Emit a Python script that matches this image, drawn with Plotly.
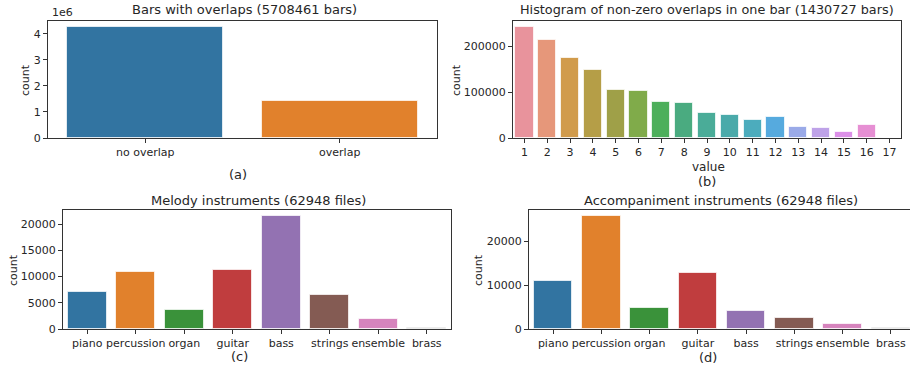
import plotly.graph_objects as go

W, H = 910, 367

# ---- data ----
overlap_cats = ["no overlap", "overlap"]
overlap_counts = [4277734, 1430727]

hist_values = [str(i) for i in range(1, 18)]
hist_counts = [243500, 214000, 175000, 149000, 105800, 102000, 77600, 76800,
               53800, 50700, 39300, 45800, 24000, 22500, 13200, 27700, 300]

instr_cats = ["piano", "percussion", "organ", "guitar", "bass", "strings", "ensemble", "brass"]
melody_counts = [7120, 10820, 3630, 11200, 21620, 6490, 1910, 120]
accomp_counts = [11060, 25930, 4870, 12880, 4190, 2450, 1210, 150]

# ---- styles ----
tab_colors = ["#3274a1", "#e1812c", "#3a923a", "#c03d3e", "#9372b2", "#845b53", "#d684bd", "#7f7f7f"]
husl_colors = ["#e8939c", "#e6977a", "#d19b4b", "#b59e47", "#9fa048", "#80ab4a", "#4daf5b",
               "#4aab80", "#4aac98", "#4aaaaa", "#4cacbd", "#56aade", "#9aaae8", "#bea2e8",
               "#dc90e8", "#e68fd3", "#e88fb8"]
FONT = "DejaVu Sans"
TXT = "#262626"
edge = dict(color="rgba(255,255,255,0.7)", width=1)

def px_x(x0, x1):
    return [x0 / W, x1 / W]

def px_y(top, bottom):
    return [1 - bottom / H, 1 - top / H]

fig = go.Figure()

fig.add_trace(go.Bar(x=overlap_cats, y=overlap_counts, marker=dict(color=tab_colors[:2], line=edge),
                     width=0.8, xaxis="x", yaxis="y"))
fig.add_trace(go.Bar(x=hist_values, y=hist_counts, marker=dict(color=husl_colors, line=edge),
                     width=0.8, xaxis="x2", yaxis="y2"))
fig.add_trace(go.Bar(x=instr_cats, y=melody_counts, marker=dict(color=tab_colors, line=edge),
                     width=0.8, xaxis="x3", yaxis="y3"))
fig.add_trace(go.Bar(x=instr_cats, y=accomp_counts, marker=dict(color=tab_colors, line=edge),
                     width=0.8, xaxis="x4", yaxis="y4"))

axis_common = dict(showline=True, linecolor="#333333", linewidth=1, mirror=True,
                   ticks="outside", ticklen=4, tickcolor="#333333", showgrid=False,
                   zeroline=False, automargin=False,
                   tickfont=dict(family=FONT, size=11, color=TXT))

def xa(domain, anchor, n, hi=None):
    d = dict(axis_common)
    d.update(domain=domain, anchor=anchor, type="category",
             range=[-0.5, (n - 0.5) if hi is None else hi])
    return d

def ya(domain, anchor, rng, **kw):
    d = dict(axis_common)
    d.update(domain=domain, anchor=anchor, range=rng, tickformat="d")
    d.update(kw)
    return d

top_y = px_y(21, 138)
bot_y = px_y(210, 329)

fig.update_layout(
    width=W, height=H, margin=dict(l=0, r=0, t=0, b=0),
    paper_bgcolor="white", plot_bgcolor="white", showlegend=False, bargap=0,
    font=dict(family=FONT, size=11, color=TXT),
    xaxis=xa(px_x(48, 437), "y", 2),
    yaxis=ya(top_y, "x", [0, max(overlap_counts) * 1.05],
             tickvals=[0, 1e6, 2e6, 3e6, 4e6], ticktext=["0", "1", "2", "3", "4"]),
    xaxis2=xa(px_x(513, 901), "y2", 17),
    yaxis2=ya(top_y, "x2", [0, max(hist_counts) * 1.05], tickvals=[0, 100000, 200000]),
    xaxis3=xa(px_x(63, 451), "y3", 8),
    yaxis3=ya(bot_y, "x3", [0, max(melody_counts) * 1.05],
              tickvals=[0, 5000, 10000, 15000, 20000]),
    xaxis4=xa(px_x(529, 910), "y4", 8, hi=7.5 - 5 / 48.3),
    yaxis4=ya(bot_y, "x4", [0, max(accomp_counts) * 1.05], tickvals=[0, 10000, 20000]),
)

def note(text, x, y, size=11, angle=0, xanchor="center"):
    fig.add_annotation(text=text, x=x / W, y=1 - y / H, xref="paper", yref="paper",
                       showarrow=False, textangle=angle, xanchor=xanchor, yanchor="middle",
                       font=dict(family=FONT, size=size, color=TXT))

note("Bars with overlaps (5708461 bars)", 244, 9, 13)
note("Histogram of non-zero overlaps in one bar (1430727 bars)", 707, 9, 12.8)
note("Melody instruments (62948 files)", 258, 200, 13)
note("Accompaniment instruments (62948 files)", 721, 200, 13)

note("1e6", 50, 13, 11, xanchor="left")
note("count", 25, 80, 11, angle=-90)
note("count", 456, 80, 11, angle=-90)
note("count", 13, 270, 11, angle=-90)
note("count", 478, 270, 11, angle=-90)

note("(a)", 238, 174, 13)
note("value", 708, 167, 12)
note("(b)", 707, 181, 13)
note("(c)", 239, 356, 13)
note("(d)", 708, 357, 13)

fig.write_html("out.html", config={"displayModeBar": False},
               post_script="document.body.style.margin='0';")
